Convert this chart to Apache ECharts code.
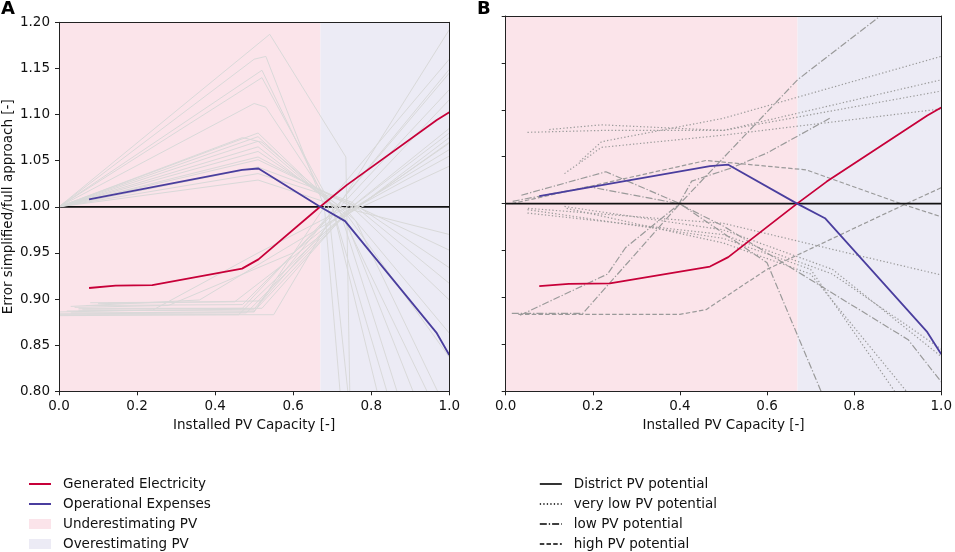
<!DOCTYPE html>
<html><head><meta charset="utf-8">
<script src="https://cdn.jsdelivr.net/npm/echarts@6/dist/echarts.min.js"></script>
<style>html,body{margin:0;padding:0;background:#fff}#c{width:955px;height:552px}</style>
</head><body><div id="c"></div>
<script>
// ---------- data ----------
const genElec = [[0.077,0.912],[0.145,0.9145],[0.239,0.915],[0.469,0.933],[0.511,0.943],[0.669,1.0],[0.737,1.0235],[0.968,1.094],[1.0,1.1025]];
const opEx = [[0.077,1.008],[0.469,1.040],[0.511,1.0415],[0.669,1.0],[0.733,0.9845],[0.968,0.863],[1.0,0.8394]];
const district = [[0,1],[1,1]];
const regionSplit = 0.67;

// panel A: individual building curves (light grey)
const greyUpperA = [
  [[0,1],[0.54,1.187],[0.735,1.054],[0.745,0.80]],
  [[0,1],[0.5,1.16],[0.53,1.163],[0.68,1.0],[0.72,0.80]],
  [[0,1],[0.52,1.148],[0.69,1.0],[0.74,0.80]],
  [[0,1],[0.52,1.14],[0.70,1.0],[0.815,0.80]],
  [[0,1],[0.5,1.112],[0.53,1.108],[0.70,1.0],[0.84,0.80]],
  [[0,1],[0.51,1.08],[0.72,0.995],[0.866,0.80]],
  [[0,1],[0.51,1.076],[0.73,0.99],[0.907,0.80]],
  [[0,1],[0.51,1.071],[0.72,0.995],[0.943,0.80]],
  [[0,1],[0.51,1.065],[0.74,0.99],[1.0,0.837]],
  [[0,1],[0.51,1.060],[0.74,0.995],[1.0,0.863]],
  [[0,1],[0.51,1.054],[0.75,1.0],[1.0,0.899]],
  [[0,1],[0.51,1.051],[0.76,1.0],[1.0,0.917]],
  [[0,1],[0.51,1.043],[0.75,1.005],[1.0,0.934]],
  [[0,1],[0.51,1.036],[0.74,1.005],[1.0,0.953]],
  [[0,1],[0.51,1.029],[0.72,1.0],[1.0,0.97]],
  [[0,1],[0.47,1.075],[0.52,1.07],[0.76,0.985],[0.97,0.80]]
];
const greyLowerA = [
  [[0.0,0.883],[0.55,0.883],[0.7,0.99],[1.0,1.192]],
  [[0.03,0.885],[0.5,0.886],[0.68,1.0],[1.0,1.16]],
  [[0.02,0.887],[0.5,0.889],[0.7,0.995],[1.0,1.149]],
  [[0.05,0.89],[0.47,0.89],[0.69,0.99],[1.0,1.145]],
  [[0.07,0.893],[0.47,0.894],[0.72,1.0],[1.0,1.127]],
  [[0.0,0.886],[0.24,0.888],[0.51,0.95],[0.74,1.0],[1.0,1.116]],
  [[0.03,0.892],[0.36,0.899],[0.6,0.96],[0.72,0.99],[1.0,1.08]],
  [[0.08,0.896],[0.45,0.897],[0.72,0.985],[1.0,1.075]],
  [[0.05,0.888],[0.5,0.887],[0.73,0.99],[1.0,1.069]],
  [[0.0,0.884],[0.48,0.885],[0.74,0.995],[1.0,1.062]],
  [[0.04,0.891],[0.28,0.893],[0.6,0.95],[0.72,0.99],[1.0,1.055]],
  [[0.1,0.895],[0.52,0.898],[0.7,0.985],[1.0,1.044]],
  [[0.06,0.889],[0.52,0.89],[0.75,1.0],[1.0,1.085]],
  [[0.0,0.882],[0.46,0.883],[0.7,0.98],[1.0,1.07]]
];

// panel B: PV potential classes
const veryLowB = [
  [[0.05,1.076],[0.22,1.078],[0.5,1.078],[1.0,1.132]],
  [[0.1,1.079],[0.22,1.084],[0.5,1.078],[1.0,1.12]],
  [[0.135,1.032],[0.22,1.06],[0.5,1.073],[1.0,1.101]],
  [[0.17,1.045],[0.22,1.066],[0.5,1.091],[1.0,1.157]],
  [[0.051,0.995],[0.5,0.979],[0.78,0.948],[1.0,0.924]],
  [[0.135,0.997],[0.5,0.972],[0.75,0.93],[1.0,0.837]],
  [[0.05,0.9936],[0.5,0.963],[0.7,0.93],[0.893,0.80]],
  [[0.14,0.995],[0.5,0.958],[0.7,0.925],[0.92,0.80]],
  [[0.05,0.99],[0.5,0.967],[0.75,0.925],[1.0,0.845]]
];
const lowB = [
  [[0.014,0.883],[0.177,0.883],[0.4,1.0],[0.67,1.132],[0.86,1.2]],
  [[0.033,0.881],[0.234,0.925],[0.275,0.953],[0.397,0.999],[0.427,1.024],[0.518,1.038],[0.60,1.054],[0.746,1.0915]],
  [[0.036,1.009],[0.23,1.034],[0.40,1.0],[0.6,0.937],[0.724,0.80]],
  [[0.016,1.0025],[0.192,1.018],[0.397,1.0],[0.5,0.976],[0.924,0.855],[1.0,0.81]]
];
const highB = [
  [[0.029,0.882],[0.4,0.882],[0.46,0.887],[0.6,0.93],[0.92,1.0],[1.0,1.017]],
  [[0.014,1.0],[0.46,1.046],[0.69,1.036],[0.92,0.998],[1.0,0.986]]
];

// ---------- styling ----------
const FONT = 'DejaVu Sans';
const TXT = '#111';
const RED = '#c70039';
const BLUE = '#4a3e9e';
const PINK = '#fbe4ea';
const LAV = '#ecebf5';
const GREY_A = '#d9d9d9';
const GREY_B = '#9a9a9a';
const DOT = [1.3, 2.2];
const DASHDOT = [7, 2, 1.3, 2];
const DASH = [4.5, 2.2];

function line(name, data, gi, color, width, type, z) {
  return {
    name: name, type: 'line', xAxisIndex: gi, yAxisIndex: gi, data: data,
    symbol: 'none', showSymbol: false, silent: true, animation: false, z: z,
    lineStyle: { color: color, width: width, type: type || 'solid' },
    itemStyle: { color: color }, clip: true
  };
}
function region(name, gi, from, to, color) {
  return {
    name: name, type: 'line', xAxisIndex: gi, yAxisIndex: gi, data: [],
    symbol: 'none', silent: true, animation: false, z: 0,
    itemStyle: { color: color }, lineStyle: { color: color },
    markArea: { silent: true, itemStyle: { color: color, opacity: 1 },
      data: [[{ xAxis: from }, { xAxis: to }]] }
  };
}

const series = [];
[0, 1].forEach(gi => {
  series.push(region('Underestimating PV', gi, 0, regionSplit, PINK));
  series.push(region('Overestimating PV', gi, regionSplit, 1, LAV));
});
// panel A
series.push(line('District PV potential', district, 0, '#111', 1.8, 'solid', 1));
greyUpperA.forEach(d => series.push(line('buildingA', d, 0, GREY_A, 1, 'solid', 2)));
greyLowerA.forEach(d => series.push(line('buildingA', d, 0, GREY_A, 1, 'solid', 2)));
series.push(line('Generated Electricity', genElec, 0, RED, 1.8, 'solid', 4));
series.push(line('Operational Expenses', opEx, 0, BLUE, 1.8, 'solid', 4));
// panel B
veryLowB.forEach(d => series.push(line('very low PV potential', d, 1, GREY_B, 1.2, DOT, 2)));
lowB.forEach(d => series.push(line('low PV potential', d, 1, GREY_B, 1.2, DASHDOT, 2)));
highB.forEach(d => series.push(line('high PV potential', d, 1, GREY_B, 1.2, DASH, 2)));
series.push(line('District PV potential', district, 1, '#111', 1.8, 'solid', 3));
series.push(line('Generated Electricity', genElec, 1, RED, 1.8, 'solid', 4));
series.push(line('Operational Expenses', opEx, 1, BLUE, 1.8, 'solid', 4));

const axisLineStyle = { lineStyle: { color: '#222', width: 1 } };
const labelStyle = { color: TXT, fontFamily: FONT, fontSize: 13.5 };

function xMain(gi) {
  return { gridIndex: gi, type: 'value', min: 0, max: 1, interval: 0.2, z: 10,
    name: 'Installed PV Capacity [-]', nameLocation: 'middle', nameGap: 26,
    nameTextStyle: labelStyle,
    axisLine: Object.assign({ show: true, onZero: false }, axisLineStyle),
    axisTick: { show: true, inside: false, length: 4, lineStyle: { color: '#222' } },
    axisLabel: Object.assign({ margin: 8, formatter: v => v.toFixed(1) }, labelStyle),
    splitLine: { show: false } };
}
function xTop(gi) {
  return { gridIndex: gi, type: 'value', min: 0, max: 1, position: 'top', z: 10,
    axisLine: Object.assign({ show: true, onZero: false }, axisLineStyle),
    axisTick: { show: false }, axisLabel: { show: false }, splitLine: { show: false } };
}
function yMain(gi) {
  return { gridIndex: gi, type: 'value', min: 0.8, max: 1.2, interval: 0.05, z: 10,
    name: gi === 0 ? 'Error simplified/full approach [-]' : '',
    nameLocation: 'middle', nameGap: 44, nameTextStyle: labelStyle,
    axisLine: Object.assign({ show: true, onZero: false }, axisLineStyle),
    axisTick: { show: true, inside: false, length: 4, lineStyle: { color: '#222' } },
    axisLabel: Object.assign({ show: gi === 0, margin: 9, formatter: v => v.toFixed(2) }, labelStyle),
    splitLine: { show: false } };
}
function yRight(gi) {
  return { gridIndex: gi, type: 'value', min: 0.8, max: 1.2, position: 'right', z: 10,
    axisLine: Object.assign({ show: true, onZero: false }, axisLineStyle),
    axisTick: { show: false }, axisLabel: { show: false }, splitLine: { show: false } };
}

const legendText = { color: TXT, fontFamily: FONT, fontSize: 13.5, lineHeight: 14, padding: [0, 0, 0, 7] };
const legendBase = { orient: 'vertical', itemWidth: 22, itemHeight: 10, itemGap: 6, padding: 0,
  selectedMode: false, textStyle: legendText, itemStyle: { opacity: 0 } };

const option = {
  animation: false,
  backgroundColor: '#fff',
  title: [
    { text: 'A', left: 1, top: 0, padding: 0, textStyle: { fontFamily: FONT, fontSize: 18, fontWeight: 'bold', color: '#000' } },
    { text: 'B', left: 477, top: 0, padding: 0, textStyle: { fontFamily: FONT, fontSize: 18, fontWeight: 'bold', color: '#000' } }
  ],
  grid: [
    { left: 58.3, top: 22.3, width: 391, height: 369 },
    { left: 505.7, top: 16, width: 439.3, height: 375.3 }
  ],
  xAxis: [xMain(0), xMain(1), xTop(0), xTop(1)],
  yAxis: [yMain(0), yMain(1), yRight(0), yRight(1)],
  legend: [
    Object.assign({}, legendBase, { left: 28, top: 477,
      data: [
        { name: 'Generated Electricity' },
        { name: 'Operational Expenses' },
        { name: 'Underestimating PV', icon: 'rect', itemStyle: { color: PINK, opacity: 1 } },
        { name: 'Overestimating PV', icon: 'rect', itemStyle: { color: LAV, opacity: 1 } }
      ] }),
    Object.assign({}, legendBase, { left: 539, top: 477,
      lineStyle: { color: '#000', width: 1.6 },
      data: [
        { name: 'District PV potential' },
        { name: 'very low PV potential' },
        { name: 'low PV potential' },
        { name: 'high PV potential' }
      ] })
  ],
  series: series
};

const chart = echarts.init(document.getElementById('c'), null, { renderer: 'canvas' });
chart.setOption(option);
</script>
</body></html>
